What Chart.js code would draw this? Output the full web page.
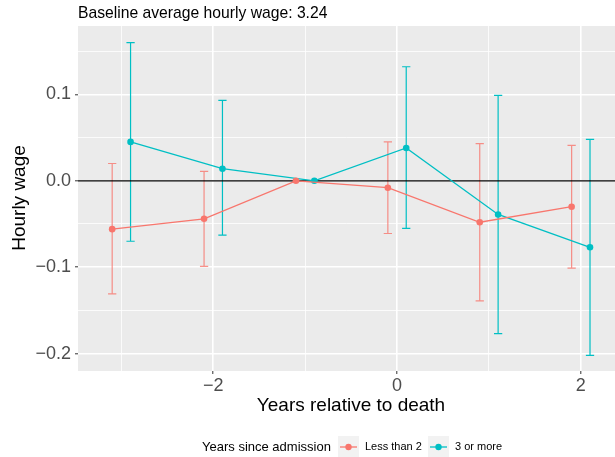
<!DOCTYPE html>
<html>
<head>
<meta charset="utf-8">
<script src="https://cdn.jsdelivr.net/npm/chart.js@4.4.0/dist/chart.umd.min.js"></script>
<style>
html, body { margin: 0; padding: 0; background: #fff; }
#wrap { width: 615px; height: 457px; }
</style>
</head>
<body>
<div id="wrap"><canvas id="wageChart" width="615" height="457"></canvas></div>
<script>
// Years relative to death
const years = [-3, -2, -1, 0, 1, 2];

// Years since admission: less than 2
const lessThan2 = [-0.056, -0.044, 0, -0.008, -0.048, -0.030];
const lessThan2Low = [-0.131, -0.099, null, -0.061, -0.139, -0.101];
const lessThan2High = [0.020, 0.011, null, 0.045, 0.043, 0.041];

// Years since admission: 3 or more
const threeOrMore = [0.045, 0.014, 0, 0.038, -0.039, -0.077];
const threeOrMoreLow = [-0.070, -0.063, null, -0.055, -0.177, -0.202];
const threeOrMoreHigh = [0.160, 0.093, null, 0.132, 0.099, 0.048];

// Axis ticks (empty label = minor grid line)
const xTickValues = [-3, -2, -1, 0, 1, 2];
const xTickLabels = ['', '\u22122', '', '0', '', '2'];
const yTickValues = [-0.2, -0.15, -0.1, -0.05, 0, 0.05, 0.1, 0.15];
const yTickLabels = ['\u22120.2', '', '\u22120.1', '', '0.0', '', '0.1', ''];

const RED = '#F8766D';
const TEAL = '#00BFC4';
const FONT = "'Liberation Sans', Arial, sans-serif";
const DODGE = 0.1;

function points(values, offset) {
    return years.map((yr, i) => ({ x: yr + offset, y: values[i] }));
}

// Grey panel, zero line and error bars
const panelPlugin = {
    id: 'panel',
    beforeDraw(chart) {
        const { ctx, chartArea: a } = chart;
        ctx.save();
        ctx.fillStyle = '#EBEBEB';
        ctx.fillRect(a.left, a.top, a.right - a.left, a.bottom - a.top);
        ctx.restore();
    },
    beforeDatasetsDraw(chart) {
        const { ctx, chartArea: a, scales: { x, y } } = chart;
        ctx.save();
        chart.data.datasets.forEach(ds => {
            ctx.strokeStyle = ds.errColor;
            ctx.lineWidth = 1.2;
            ds.errLow.forEach((lo, i) => {
                const hi = ds.errHigh[i];
                if (lo == null || hi == null) return;
                const xv = years[i] + ds.dodge;
                const px = x.getPixelForValue(xv);
                const x0 = x.getPixelForValue(xv - 0.045);
                const x1 = x.getPixelForValue(xv + 0.045);
                const pLo = y.getPixelForValue(lo);
                const pHi = y.getPixelForValue(hi);
                ctx.beginPath();
                ctx.moveTo(px, pLo); ctx.lineTo(px, pHi);
                ctx.moveTo(x0, pLo); ctx.lineTo(x1, pLo);
                ctx.moveTo(x0, pHi); ctx.lineTo(x1, pHi);
                ctx.stroke();
            });
        });
        // horizontal reference at 0
        const y0 = y.getPixelForValue(0);
        ctx.strokeStyle = '#000';
        ctx.lineWidth = 1.2;
        ctx.beginPath();
        ctx.moveTo(a.left, y0);
        ctx.lineTo(a.right, y0);
        ctx.stroke();
        ctx.restore();
    },
    afterDraw(chart) {
        const { ctx } = chart;
        ctx.save();
        ctx.fillStyle = '#000';
        // title
        ctx.font = '15.7px ' + FONT;
        ctx.textAlign = 'left';
        ctx.textBaseline = 'alphabetic';
        ctx.fillText('Baseline average hourly wage: 3.24', 78, 17.5);
        // x axis title
        ctx.font = '19px ' + FONT;
        ctx.textAlign = 'center';
        ctx.fillText('Years relative to death', 351, 410.5);
        // y axis title
        ctx.save();
        ctx.translate(25, 198);
        ctx.rotate(-Math.PI / 2);
        ctx.fillText('Hourly wage', 0, 0);
        ctx.restore();
        // legend
        ctx.font = '13px ' + FONT;
        ctx.textAlign = 'left';
        ctx.textBaseline = 'middle';
        ctx.fillText('Years since admission', 202, 447);
        const keys = [
            { x: 338, color: RED, label: 'Less than 2' },
            { x: 428, color: TEAL, label: '3 or more' }
        ];
        keys.forEach(k => {
            ctx.fillStyle = '#F2F2F2';
            ctx.fillRect(k.x, 436, 21, 21);
            ctx.strokeStyle = k.color;
            ctx.lineWidth = 1.3;
            ctx.beginPath();
            ctx.moveTo(k.x + 2, 447);
            ctx.lineTo(k.x + 19, 447);
            ctx.stroke();
            ctx.fillStyle = k.color;
            ctx.beginPath();
            ctx.arc(k.x + 10.5, 447, 3.2, 0, Math.PI * 2);
            ctx.fill();
            ctx.fillStyle = '#000';
            ctx.font = '11px ' + FONT;
            ctx.fillText(k.label, k.x + 27, 447);
        });
        ctx.restore();
    }
};

const ctx = document.getElementById('wageChart').getContext('2d');
new Chart(ctx, {
    type: 'line',
    data: {
        datasets: [
            {
                label: 'Less than 2',
                data: points(lessThan2, -DODGE),
                errLow: lessThan2Low,
                errHigh: lessThan2High,
                dodge: -DODGE,
                errColor: 'rgba(248,118,109,0.8)',
                borderColor: RED,
                backgroundColor: RED,
                borderWidth: 1.3,
                pointRadius: 3.3,
                pointBorderWidth: 0,
                tension: 0
            },
            {
                label: '3 or more',
                data: points(threeOrMore, DODGE),
                errLow: threeOrMoreLow,
                errHigh: threeOrMoreHigh,
                dodge: DODGE,
                errColor: TEAL,
                borderColor: TEAL,
                backgroundColor: TEAL,
                borderWidth: 1.3,
                pointRadius: 3.3,
                pointBorderWidth: 0,
                tension: 0
            }
        ]
    },
    options: {
        responsive: false,
        devicePixelRatio: 1,
        animation: false,
        layout: { autoPadding: false, padding: { top: 26, left: 0, right: 0, bottom: 0 } },
        plugins: {
            legend: { display: false },
            title: { display: false },
            tooltip: { enabled: false }
        },
        scales: {
            x: {
                type: 'linear',
                min: -3.472,
                max: 2.372,
                afterBuildTicks: s => { s.ticks = xTickValues.map(v => ({ value: v })); },
                afterFit: s => { s.height = 86; s.paddingLeft = 0; s.paddingRight = 0; },
                border: { display: false },
                grid: {
                    color: '#FFFFFF',
                    lineWidth: c => xTickLabels[c.index] ? 1.6 : 0.8,
                    tickColor: c => xTickLabels[c.index] ? '#333333' : 'rgba(0,0,0,0)',
                    tickLength: 3,
                    tickWidth: 1
                },
                ticks: {
                    autoSkip: false,
                    maxRotation: 0,
                    padding: 1,
                    color: '#4D4D4D',
                    font: { family: FONT, size: 18 },
                    callback: (v, i) => xTickLabels[i]
                }
            },
            y: {
                type: 'linear',
                min: -0.2202,
                max: 0.1792,
                afterBuildTicks: s => { s.ticks = yTickValues.map(v => ({ value: v })); },
                afterFit: s => { s.width = 78; s.paddingTop = 0; s.paddingBottom = 0; },
                border: { display: false },
                grid: {
                    color: '#FFFFFF',
                    lineWidth: c => yTickLabels[c.index] ? 1.6 : 0.8,
                    tickColor: c => yTickLabels[c.index] ? '#333333' : 'rgba(0,0,0,0)',
                    tickLength: 3,
                    tickWidth: 1
                },
                ticks: {
                    autoSkip: false,
                    padding: 4,
                    color: '#4D4D4D',
                    font: { family: FONT, size: 18 },
                    callback: (v, i) => yTickLabels[i]
                }
            }
        }
    },
    plugins: [panelPlugin]
});
</script>
</body>
</html>
